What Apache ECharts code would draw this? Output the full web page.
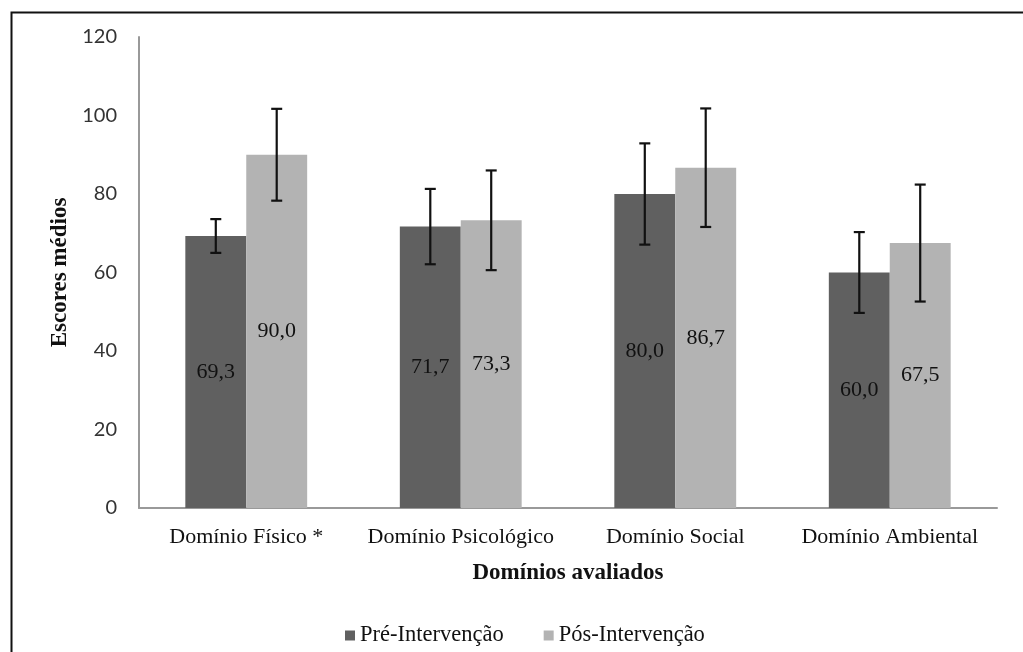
<!DOCTYPE html>
<html><head><meta charset="utf-8">
<script src="https://cdn.jsdelivr.net/npm/echarts@6/dist/echarts.min.js"></script>
<style>html,body{margin:0;padding:0;background:#fff}#c{width:1023px;height:652px}</style>
</head><body><div id="c"></div>
<script>
const categories = ['Domínio Físico *', 'Domínio Psicológico', 'Domínio Social', 'Domínio Ambiental'];
const preValues = [69.3, 71.7, 80.0, 60.0];
const postValues = [90.0, 73.3, 86.7, 67.5];
const preErrors = [4.3, 9.6, 12.9, 10.3];
const postErrors = [11.7, 12.7, 15.1, 14.9];
const seriesNames = ['Pré-Intervenção', 'Pós-Intervenção'];
const yTicks = [0, 20, 40, 60, 80, 100, 120];

const BAR_FRAC = 0.284;
const serif = '"Liberation Serif", "DejaVu Serif", serif';

function errSeries(values, errors, side) {
  return {
    type: 'custom',
    z: 10,
    data: values.map((v, i) => [i, v - errors[i], v + errors[i]]),
    renderItem: function (params, api) {
      const band = api.size([1, 0])[0];
      const bw = band * BAR_FRAC;
      const x0 = api.coord([api.value(0), 0])[0] + side * bw / 2;
      const lo = api.coord([api.value(0), api.value(1)])[1];
      const hi = api.coord([api.value(0), api.value(2)])[1];
      const cap = 5.5;
      const st = { stroke: '#111', lineWidth: 2.2 };
      return { type: 'group', children: [
        { type: 'line', shape: { x1: x0, y1: lo, x2: x0, y2: hi }, style: st },
        { type: 'line', shape: { x1: x0 - cap, y1: lo, x2: x0 + cap, y2: lo }, style: st },
        { type: 'line', shape: { x1: x0 - cap, y1: hi, x2: x0 + cap, y2: hi }, style: st }
      ]};
    }
  };
}

const fmt = p => p.value.toFixed(1).replace('.', ',');

const chart = echarts.init(document.getElementById('c'));
chart.setOption({
  animation: false,
  backgroundColor: '#fff',
  graphic: [{ type: 'rect', left: 9, top: 10, shape: { width: 1100, height: 700 },
    style: { fill: 'none', stroke: '#111', lineWidth: 2 }, silent: true }],
  grid: { left: 139, right: 26, top: 37, bottom: 144 },
  legend: {
    data: seriesNames, left: 340, top: 619, itemWidth: 10, itemHeight: 10, itemGap: 40,
    icon: 'rect',
    textStyle: { fontFamily: serif, fontSize: 22.5, color: '#111' }
  },
  xAxis: {
    type: 'category', data: categories,
    name: 'Domínios avaliados', nameLocation: 'middle', nameGap: 54,
    nameTextStyle: { fontFamily: serif, fontSize: 23, fontWeight: 'bold', color: '#111' },
    axisLine: { lineStyle: { color: '#999', width: 2 } },
    axisTick: { show: false },
    axisLabel: { fontFamily: serif, fontSize: 22, color: '#111', margin: 18, interval: 0, hideOverlap: false }
  },
  yAxis: {
    type: 'value', min: 0, max: 120, interval: 20,
    name: 'Escores médios', nameLocation: 'middle', nameGap: 63, nameRotate: 90,
    nameTextStyle: { fontFamily: serif, fontSize: 23, fontWeight: 'bold', color: '#111' },
    axisLine: { show: true, lineStyle: { color: '#999', width: 2 } },
    axisTick: { show: false },
    splitLine: { show: false },
    axisLabel: { fontFamily: 'Lato, "Open Sans", sans-serif', fontSize: 20, color: '#333', margin: 22,
      formatter: v => yTicks.includes(v) ? String(v) : '' }
  },
  series: [
    { name: seriesNames[0], type: 'bar', data: preValues, barWidth: (BAR_FRAC * 100) + '%', barGap: '0%',
      itemStyle: { color: '#606060' },
      label: { show: true, position: 'inside', formatter: fmt, fontFamily: serif, fontSize: 22, color: '#111' } },
    { name: seriesNames[1], type: 'bar', data: postValues, barWidth: (BAR_FRAC * 100) + '%', barGap: '0%',
      itemStyle: { color: '#b3b3b3' },
      label: { show: true, position: 'inside', formatter: fmt, fontFamily: serif, fontSize: 22, color: '#111' } },
    errSeries(preValues, preErrors, -1),
    errSeries(postValues, postErrors, 1)
  ]
});
</script></body></html>
